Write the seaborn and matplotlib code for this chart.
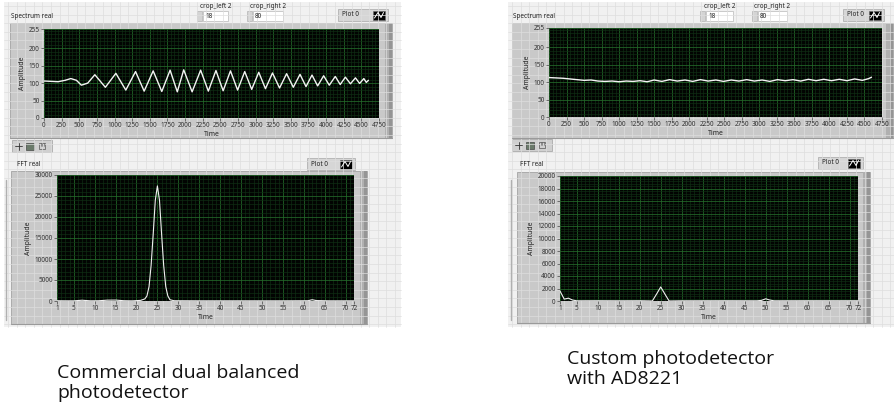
import numpy as np
import matplotlib
matplotlib.use("Agg")
import matplotlib.pyplot as plt
import seaborn as sns
from matplotlib.patches import Rectangle
from matplotlib.ticker import MultipleLocator

W, H = 894, 407

# ---- data ----
# left: commercial detector, time trace (peaks / troughs)
spec_left_t = [0, 100, 200, 300, 380, 460, 530, 620, 721, 870, 1019, 1160, 1298, 1420,
               1548, 1670, 1788, 1890, 1981, 2100, 2221, 2330, 2438, 2540, 2644, 2745,
               2846, 2945, 3045, 3140, 3240, 3340, 3440, 3535, 3630, 3715, 3800, 3880,
               3965, 4045, 4130, 4200, 4273, 4345, 4416, 4475, 4535, 4570, 4600]
spec_left_v = [106, 105, 104, 108, 113, 108, 94, 100, 124, 88, 128, 80, 133, 77,
               135, 76, 137, 75, 138, 75, 137, 77, 136, 78, 135, 80,
               133, 82, 131, 84, 129, 86, 127, 88, 125, 90, 123, 92,
               121, 94, 119, 96, 117, 98, 115, 99, 113, 102, 108]

# right: custom detector, time trace
spec_right_t = [0, 100, 200, 300, 400, 500, 600, 700, 800, 900, 1000, 1100, 1200, 1300,
                1400, 1500, 1610, 1720, 1830, 1940, 2050, 2160, 2270, 2380, 2490, 2600,
                2710, 2820, 2930, 3040, 3150, 3260, 3370, 3480, 3590, 3700, 3810, 3920,
                4030, 4140, 4250, 4360, 4470, 4560, 4600]
spec_right_v = [113, 112, 111, 109, 107, 105, 106, 103, 102, 103, 101, 103, 102, 104,
                101, 106, 102, 107, 103, 106, 102, 107, 103, 106, 102, 106,
                103, 107, 103, 106, 102, 107, 104, 107, 103, 108, 104, 108,
                104, 108, 104, 109, 105, 110, 114]

# FFT magnitudes
fft_left_x = [1, 3, 5, 7, 9, 11, 13, 15, 17, 19, 21, 22, 22.5, 23, 23.5, 24, 24.5, 25,
              25.5, 26, 26.5, 27, 27.5, 28, 29, 35, 45, 55, 61, 62, 63, 66, 72]
fft_left_v = [60, 40, 40, 180, 40, 60, 200, 220, 60, 30, 150, 500, 1200, 3400, 8500,
              16000, 24000, 27400, 24000, 16000, 8500, 3400, 1200, 300, 60, 40, 40,
              40, 60, 300, 100, 40, 40]

fft_right_x = [1, 2, 3, 4, 5, 10, 15, 20, 23, 24, 25, 26, 27, 30, 40, 48, 49, 50, 51,
               52, 60, 72]
fft_right_v = [1600, 300, 450, 150, 30, 40, 30, 40, 0, 1100, 2250, 1100, 0, 30, 40, 30,
               100, 350, 150, 30, 40, 40]

spec_xticks = list(range(0, 4751, 250))
spec_yticks = [0, 50, 100, 150, 200, 255]
fft_xticks = [1, 5, 10, 15, 20, 25, 30, 35, 40, 45, 50, 55, 60, 65, 70, 72]
fft_left_yticks = list(range(0, 30001, 5000))
fft_right_yticks = list(range(0, 20001, 2000))

captions = ["Commercial dual balanced\nphotodetector", "Custom photodetector\nwith AD8221"]

# ---- figure ----
sns.set_theme(style="dark")
plt.rcParams['font.family'] = ['Noto Sans', 'DejaVu Sans']

fig = plt.figure(figsize=(W / 100, H / 100), dpi=100)
fig.patch.set_facecolor('white')
bg = fig.add_axes([0, 0, 1, 1])
bg.set_xlim(0, W)
bg.set_ylim(H, 0)
bg.axis('off')

LBL = 4.6


def panel_bg(x0, y0, x1, y1):
    bg.add_patch(Rectangle((x0, y0), x1 - x0, y1 - y0, fc='#f1f1f1', ec='none'))
    for x in np.arange(x0 + 4, x1, 8.6):
        bg.plot([x, x], [y0, y1], color='#dedede', lw=0.5)
    for y in np.arange(y0 + 4, y1, 8.6):
        bg.plot([x0, x1], [y, y], color='#dedede', lw=0.5)


def frame(x0, y0, x1, y1):
    bg.add_patch(Rectangle((x0, y0), x1 - x0, y1 - y0, fc='#c9c9c9', ec='#a3a3a3', lw=0.6))
    bg.add_patch(Rectangle((x1 - 7, y0), 7, y1 - y0, fc='#b0b0b0', ec='none'))
    bg.add_patch(Rectangle((x1 - 3, y0), 3, y1 - y0, fc='#959595', ec='none'))
    bg.plot([x0, x1], [y1, y1], color='#9a9a9a', lw=0.8)


def legend_box(x0, y0, x1, y1):
    bg.add_patch(Rectangle((x0, y0), x1 - x0, y1 - y0, fc='#d6d6d6', ec='#a8a8a8', lw=0.5))
    bg.text(x0 + 4, (y0 + y1) / 2, "Plot 0", fontsize=LBL, va='center', ha='left', color='#222')
    ix = x1 - 15
    bg.add_patch(Rectangle((ix, y0 + 1.5), 12, y1 - y0 - 3, fc='black', ec='#666', lw=0.4))
    bg.plot([ix + 1.5, ix + 5, ix + 8, ix + 10.5], [y1 - 3, y0 + 3.5, y1 - 3.5, y0 + 3.5],
            color='white', lw=0.7)


def numeric(x0, y0, x1, y1, label, val):
    bg.text((x0 + x1) / 2, y0 - 5, label, fontsize=LBL, ha='center', va='center', color='#222')
    bg.add_patch(Rectangle((x0 - 6, y0), 5, y1 - y0, fc='#d4d4d4', ec='#a8a8a8', lw=0.4))
    bg.add_patch(Rectangle((x0, y0), x1 - x0, y1 - y0, fc='white', ec='#b8b8b8', lw=0.5))
    bg.text(x0 + 2, (y0 + y1) / 2, val, fontsize=LBL, va='center', ha='left', color='#222')


def toolbar(x0, y0):
    bg.add_patch(Rectangle((x0, y0), 40, 12, fc='#d0d0d0', ec='#a0a0a0', lw=0.5))
    bg.plot([x0 + 3, x0 + 10], [y0 + 6, y0 + 6], color='#333', lw=0.6)
    bg.plot([x0 + 6.5, x0 + 6.5], [y0 + 2.5, y0 + 9.5], color='#333', lw=0.6)
    bg.add_patch(Rectangle((x0 + 14, y0 + 2.5), 8, 7, fc='#6a7a6a', ec='#333', lw=0.4))
    bg.add_patch(Rectangle((x0 + 27, y0 + 3), 6, 6, fc='none', ec='#555', lw=0.5))
    bg.plot([x0 + 28.5, x0 + 28.5], [y0 + 3, y0 + 6], color='#555', lw=0.4)
    bg.plot([x0 + 30, x0 + 30], [y0 + 3, y0 + 6], color='#555', lw=0.4)
    bg.plot([x0 + 31.5, x0 + 31.5], [y0 + 3, y0 + 6], color='#555', lw=0.4)


def plot_ax(x0, y0, x1, y1):
    return fig.add_axes([x0 / W, 1 - y1 / H, (x1 - x0) / W, (y1 - y0) / H])


def style_ax(ax, xticks, yticks, xlim, ylim, xminor, yminor):
    ax.set_facecolor('#020402')
    ax.set_xlim(*xlim)
    ax.set_ylim(*ylim)
    ax.set_xticks(xticks)
    ax.set_yticks(yticks)
    ax.xaxis.set_minor_locator(MultipleLocator(xminor))
    ax.yaxis.set_minor_locator(MultipleLocator(yminor))
    ax.grid(which='minor', color='#0f3014', lw=0.45)
    ax.grid(which='major', color='#236a2a', lw=0.55)
    ax.set_axisbelow(True)
    for s in ax.spines.values():
        s.set_visible(False)
    ax.tick_params(which='major', direction='out', length=2, width=0.5, color='#444',
                   labelsize=LBL, labelcolor='#333', pad=1, bottom=True, left=True)
    ax.tick_params(which='minor', length=0)
    ax.set_xlabel("Time", fontsize=LBL + 0.3, color='#222', labelpad=1)
    ax.set_ylabel("Amplitude", fontsize=LBL + 0.3, color='#222', labelpad=2)


# backgrounds
panel_bg(4, 2, 401, 327)
panel_bg(508, 2, 894, 327)

# ----- left panel -----
frame(10, 23, 392, 138)
bg.text(11, 17, "Spectrum real", fontsize=LBL, va='center', ha='left', color='#222')
numeric(203, 11, 228, 21, "crop_left 2", "18")
numeric(253, 11, 283, 21, "crop_right 2", "80")
legend_box(338, 9, 388, 21)
toolbar(12, 140)

frame(11, 171, 367, 324)
bg.text(17, 165, "FFT real", fontsize=LBL, va='center', ha='left', color='#222')
legend_box(307, 158, 355, 170)
bg.plot([6, 6], [180, 320], color='#b0b0b0', lw=1.0)

# ----- right panel -----
frame(512, 23, 893, 138)
bg.text(513, 17, "Spectrum real", fontsize=LBL, va='center', ha='left', color='#222')
numeric(706, 11, 733, 21, "crop_left 2", "18")
numeric(758, 11, 787, 21, "crop_right 2", "80")
legend_box(843, 9, 884, 21)
toolbar(512, 139)

frame(517, 172, 870, 323)
bg.text(520, 165, "FFT real", fontsize=LBL, va='center', ha='left', color='#222')
legend_box(818, 157, 863, 169)
bg.plot([511, 511], [180, 320], color='#b0b0b0', lw=1.0)

# ----- plots -----
ax1 = plot_ax(44, 29, 379, 118)
sns.lineplot(x=spec_left_t, y=spec_left_v, ax=ax1, color='#f4f4f4', lw=1.0)
style_ax(ax1, spec_xticks, spec_yticks, (0, 4750), (0, 255), 50, 10)

ax2 = plot_ax(57, 175, 354, 301)
sns.lineplot(x=fft_left_x, y=fft_left_v, ax=ax2, color='#f0f0f0', lw=0.8)
style_ax(ax2, fft_xticks, fft_left_yticks, (1, 72), (0, 30000), 1, 1000)

ax3 = plot_ax(549, 28, 882, 117)
sns.lineplot(x=spec_right_t, y=spec_right_v, ax=ax3, color='#f4f4f4', lw=1.0)
style_ax(ax3, spec_xticks, spec_yticks, (0, 4750), (0, 255), 50, 10)

ax4 = plot_ax(560, 176, 858, 301)
sns.lineplot(x=fft_right_x, y=fft_right_v, ax=ax4, color='#f0f0f0', lw=0.8)
style_ax(ax4, fft_xticks, fft_right_yticks, (1, 72), (0, 20000), 1, 400)

# captions
bg.text(57, 383, captions[0], fontsize=14, va='center', ha='left', color='#111',
        family=['Open Sans', 'DejaVu Sans'], linespacing=1.12)
bg.text(567, 369, captions[1], fontsize=14, va='center', ha='left', color='#111',
        family=['Open Sans', 'DejaVu Sans'], linespacing=1.12)

fig.savefig("out.png", dpi=100)
